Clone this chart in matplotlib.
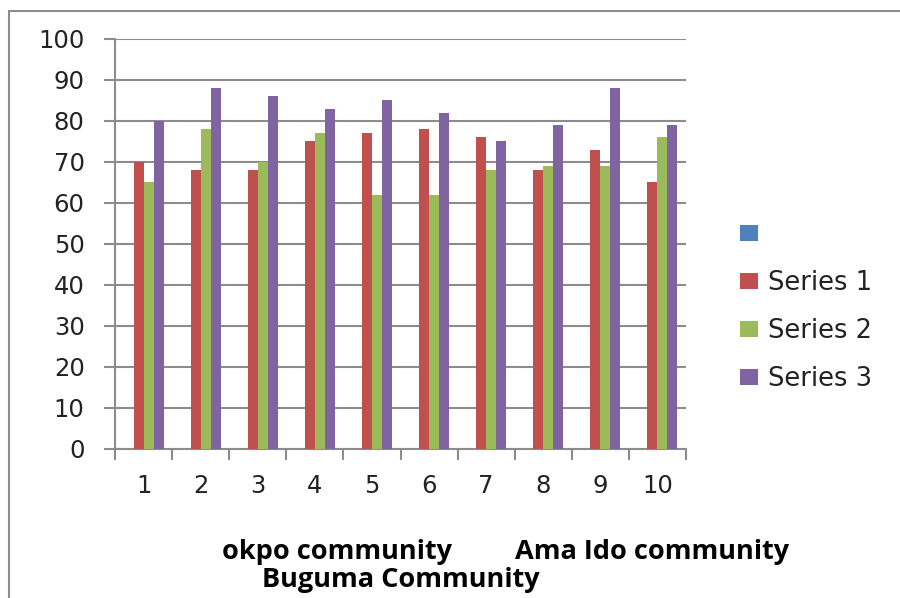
import matplotlib.pyplot as plt
from matplotlib.patches import Rectangle
from matplotlib.ticker import FixedLocator
import numpy as np

# Values
categories = ['1', '2', '3', '4', '5', '6', '7', '8', '9', '10']
blank_series = [0, 0, 0, 0, 0, 0, 0, 0, 0, 0]
series1 = [70, 68, 68, 75, 77, 78, 76, 68, 73, 65]
series2 = [65, 78, 70, 77, 62, 62, 68, 69, 69, 76]
series3 = [80, 88, 86, 83, 85, 82, 75, 79, 88, 79]
legend_labels = ['', 'Series 1', 'Series 2', 'Series 3']
colors = ['#4F81BD', '#C0504D', '#9BBB59', '#8064A2']

grey = '#8c8c8c'
text_col = '#222222'
plt.rcParams['font.family'] = ['DejaVu Sans']

fig = plt.figure(figsize=(9, 5.98), dpi=100)
ax = fig.add_axes([0.128, 0.2492, 0.634, 0.6856])

x = np.arange(1, len(categories) + 1)
w = 0.175
handles = []
for k, vals in enumerate([blank_series, series1, series2, series3]):
    b = ax.bar(x + (k - 1.5) * w, vals, width=w, color=colors[k], linewidth=0, zorder=3)
    handles.append(b)

ax.set_xlim(0.5, 10.5)
ax.set_ylim(0, 100)
ax.set_yticks(range(0, 101, 10))
ax.yaxis.grid(True, color=grey, linewidth=1.5, zorder=0)
ax.tick_params(axis='y', length=8, width=1.5, color=grey, pad=14, labelsize=17.5, labelcolor=text_col)

ax.set_xticks(x)
ax.set_xticklabels(categories)
ax.xaxis.set_minor_locator(FixedLocator(np.arange(0.5, 11, 1)))
ax.tick_params(axis='x', which='major', length=0, pad=18, labelsize=17.5, labelcolor=text_col)
ax.tick_params(axis='x', which='minor', length=8, width=1.5, color=grey)

for s in ['top', 'right']:
    ax.spines[s].set_visible(False)
for s in ['left', 'bottom']:
    ax.spines[s].set_color(grey)
    ax.spines[s].set_linewidth(1.5)

fig.legend(handles, legend_labels, loc='center left', bbox_to_anchor=(0.822, 0.4865),
           frameon=False, fontsize=18.5, borderpad=0, borderaxespad=0,
           handlelength=0.7, handleheight=0.55, handletextpad=0.4, labelspacing=0.86,
           labelcolor=text_col)

# category captions under the axis
fig.text(0.247, 0.0770, 'okpo community', fontsize=19.5, fontweight='bold',
         va='center', ha='left', family='Open Sans')
fig.text(0.572, 0.0770, 'Ama Ido community', fontsize=19.5, fontweight='bold',
         va='center', ha='left', family='Open Sans')
fig.text(0.291, 0.030, 'Buguma Community', fontsize=19.5, fontweight='bold',
         va='center', ha='left', family='Open Sans')

# outer chart frame, cut off at the right and bottom
fig.patches.append(Rectangle((0.01, -0.05), 1.1, 0.9816 + 0.05, transform=fig.transFigure,
                             fill=False, edgecolor=grey, linewidth=1.5))

fig.savefig('out.png', dpi=100)
